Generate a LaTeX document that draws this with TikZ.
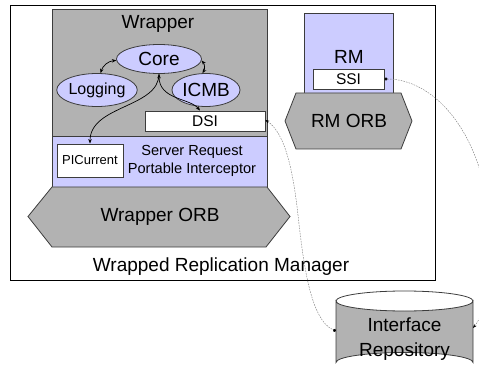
\documentclass[tikz,border=0pt]{standalone}
\usepackage{fontspec}
\setmainfont{Liberation Sans}
\usetikzlibrary{shapes.geometric,arrows.meta}
\definecolor{grayfill}{HTML}{B2B2B2}
\definecolor{lav}{HTML}{CCCCFF}
\definecolor{edge}{HTML}{3C3C3C}
\begin{document}
\begin{tikzpicture}[x=1pt,y=-1pt,
  big/.style={font=\fontsize{19}{23}\selectfont},
  mid/.style={font=\fontsize{15.5}{18}\selectfont},
  small/.style={font=\fontsize{14.6}{18}\selectfont},
  tiny/.style={font=\fontsize{13}{15}\selectfont},
  oval/.style={ellipse, draw=edge, fill=lav, line width=0.8pt, inner sep=0pt, big},
  whitebox/.style={draw=edge, fill=white, line width=0.8pt, inner sep=0pt},
  panel/.style={draw=edge, line width=0.8pt},
  tip/.style={-{Stealth[length=4.5pt,width=3.5pt]}},
  tips/.style={{Stealth[length=4.5pt,width=3.5pt]}-{Stealth[length=4.5pt,width=3.5pt]}},
  dashline/.style={draw=gray, line width=0.45pt, dash pattern=on 1.6pt off 1.1pt}
]
\useasboundingbox (0,0) rectangle (479,374);
% outer frame
\draw[line width=0.8pt] (10,5) rectangle (435,280);
% wrapper panels
\draw[panel, fill=grayfill] (52,9) rectangle (267,136);
\draw[panel, fill=lav] (52,136) rectangle (267,187);
\draw[panel, fill=grayfill] (52,187) -- (267,187) -- (290,216.5) -- (266,247) -- (52,247) -- (28,216.5) -- cycle;
% RM panels
\draw[panel, fill=lav] (304,13) rectangle (393,93);
\draw[panel, fill=grayfill] (296,93) -- (401,93) -- (412,121) -- (401,149) -- (296,149) -- (285,121) -- cycle;
% cylinder
\draw[panel, fill=grayfill] (336,301) -- (336,362.5) arc[start angle=180, end angle=360, x radius=68.5, y radius=10] -- (473,301) arc[start angle=0, end angle=180, x radius=68.5, y radius=10] -- cycle;
\draw[panel] (336,301) arc[start angle=180, end angle=360, x radius=68.5, y radius=10];
\node[font=\fontsize{19}{24.5}\selectfont, align=center] (repo) at (404.5,339) {Interface\\Repository};
\coordinate (cylW) at (336,331);
\coordinate (cylE) at (473,328);
% texts and nodes
\node[big] (wrapper) at (158,23.5) {Wrapper};
\node[oval, minimum width=85pt, minimum height=29pt] (core) at (159,59) {Core};
\node[oval, font=\fontsize{16}{19}\selectfont, minimum width=70pt, minimum height=33pt] (logging) at (97,90) {Logging};
\node[oval, minimum width=68pt, minimum height=33pt] (icmb) at (206,90) {ICMB};
\node[whitebox, mid, minimum width=120pt, minimum height=20pt] (dsi) at (205,121) {DSI};
\node[whitebox, tiny, minimum width=66pt, minimum height=33pt] (picur) at (90,160.5) {PICurrent};
\node[small, align=center] (sri) at (192,161) {Server Request\\Portable Interceptor};
\node[big] (worb) at (160,217) {Wrapper ORB};
\node[big] (wrm) at (221,267) {Wrapped Replication Manager};
\node[big] (rm) at (349,57) {RM};
\node[whitebox, mid, minimum width=71pt, minimum height=20pt] (ssi) at (348.5,79) {SSI};
\node[big] (rmorb) at (349,121) {RM ORB};
% solid connectors
\draw[tips, line width=0.7pt] (logging.78) to[bend left=35] (core.182);
\draw[tips, line width=0.7pt] (core.-2) to[bend left=35] (icmb.102);
\draw[tips, line width=0.7pt] (core.south) .. controls (159,100) and (190,98) .. ([xshift=-5pt]dsi.north);
\draw[tip, line width=0.7pt] (core.south) .. controls (159,108) and (90,105) .. (picur.north);
% dashed connectors
\draw[dashline, {Stealth[length=4pt,width=3pt,color=black]}-{Circle[length=3.2pt,color=black]}]
  ([yshift=1pt]dsi.east) .. controls (285,133) and (293,170) .. (298,215)
  .. controls (303,260) and (310,320) .. (cylW);
\draw[dashline, {Circle[length=3.2pt,color=black]}-{Stealth[length=4pt,width=3pt,color=black]}]
  (ssi.east) .. controls (430,79) and (480,125) .. (490,220)
  .. controls (495,275) and (486,312) .. (cylE);
\end{tikzpicture}
\end{document}
